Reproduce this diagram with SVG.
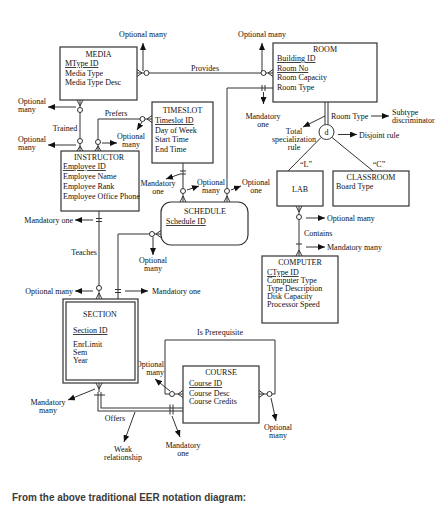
<svg xmlns="http://www.w3.org/2000/svg" width="448" height="513" viewBox="0 0 448 513">
<defs>
<style>
.t{font-family:"Liberation Serif","Times New Roman",serif;font-size:8px;fill:#111}
.c{text-anchor:middle}
.e{text-anchor:end}
.u{text-decoration:underline}
.box{fill:#fff;stroke:#333;stroke-width:1.2}
.ln{fill:none;stroke:#333;stroke-width:1}
.ar{fill:none;stroke:#333;stroke-width:1;marker-end:url(#ah)}
.o{fill:#fff;stroke:#333;stroke-width:1}
.cap{font-family:"Liberation Sans",Arial,sans-serif;font-size:10px;font-weight:bold;fill:#3a3a3a}
</style>
<marker id="ah" markerUnits="userSpaceOnUse" markerWidth="7" markerHeight="6" refX="7" refY="3" orient="auto">
<path d="M0,0 L7,3 L0,6 z" fill="#111"/>
</marker>
</defs>
<rect width="448" height="513" fill="#fff"/>

<g id="connectors">
<!-- Provides -->
<path class="ln" d="M137,73 H273 M142,73 L137,69.5 M142,73 L137,76.5 M268,73 L273,69.5 M268,73 L273,76.5"/>
<circle class="o" cx="146.5" cy="73" r="2.5"/>
<circle class="o" cx="263.5" cy="73" r="2.5"/>
<path class="ar" d="M143,71 V43"/>
<path class="ar" d="M262,71 V43"/>
<text class="t c" x="143" y="37">Optional many</text>
<text class="t c" x="262" y="37">Optional many</text>
<text class="t c" x="205" y="71">Provides</text>

<!-- Room to Schedule -->
<path class="ln" d="M273,88 H227 V202 M227,196 L224,202 M227,196 L230,202 M262,85 V91 M265,85 V91"/>
<circle class="o" cx="227" cy="191" r="2.5"/>
<path class="ar" d="M263.5,92 V104"/>
<text class="t c" x="263" y="119">Mandatory</text>
<text class="t c" x="263" y="127">one</text>
<path class="ar" d="M231,190 L241,186"/>
<text class="t c" x="256" y="185">Optional</text>
<text class="t c" x="256" y="193">one</text>

<!-- Specialization -->
<path class="ln" d="M325,102 V124.5 M328,102 V124.5"/>
<circle class="o" cx="326.5" cy="132" r="7.5"/>
<text class="t c" x="326.5" y="135">d</text>
<path class="ln" d="M321,137.5 L288,171 M332,137.5 L373,171"/>
<text class="t" x="331" y="119">Room Type</text>
<path class="ar" d="M371,116 H389"/>
<text class="t" x="392" y="115">Subtype</text>
<text class="t" x="392" y="123">discriminator</text>
<path class="ar" d="M325,116 L303,127"/>
<text class="t c" x="294" y="134">Total</text>
<text class="t c" x="294" y="142">specialization</text>
<text class="t c" x="294" y="150">rule</text>
<path class="ar" d="M338,134.5 H357"/>
<text class="t" x="359" y="137.5">Disjoint rule</text>
<text class="t c" x="306" y="167">“L”</text>
<text class="t c" x="379" y="167">“C”</text>

<!-- Contains -->
<path class="ln" d="M299,206 V256 M299,212 L296,206 M299,212 L302,206 M296,244 H302 M299,250 L296,256 M299,250 L302,256"/>
<circle class="o" cx="299" cy="217" r="2.5"/>
<path class="ar" d="M306,218 H325"/>
<text class="t" x="327" y="221">Optional many</text>
<text class="t" x="304" y="236">Contains</text>
<path class="ar" d="M306,247 H325"/>
<text class="t" x="327" y="250">Mandatory many</text>

<!-- Prefers -->
<path class="ln" d="M152,119 H98 V151 M147,119 L152,115.5 M147,119 L152,122.5 M98,146 L95,151 M98,146 L101,151"/>
<circle class="o" cx="142.5" cy="119" r="2.5"/>
<circle class="o" cx="98" cy="142" r="2.5"/>
<text class="t c" x="116" y="116">Prefers</text>
<path class="ar" d="M142,122 L137,130"/>
<path class="ar" d="M102,143 H117"/>
<text class="t c" x="131" y="139">Optional</text>
<text class="t c" x="131" y="147">many</text>

<!-- Trained -->
<path class="ln" d="M80,100 V151 M80,106 L77,100 M80,106 L83,100 M80,146 L77,151 M80,146 L83,151"/>
<circle class="o" cx="80" cy="110" r="2.5"/>
<circle class="o" cx="80" cy="141" r="2.5"/>
<path class="ar" d="M76,107 H48"/>
<path class="ar" d="M76,145 H48"/>
<text class="t" x="18" y="104">Optional</text>
<text class="t" x="18" y="112">many</text>
<text class="t" x="18" y="142">Optional</text>
<text class="t" x="18" y="150">many</text>
<text class="t c" x="65" y="131">Trained</text>

<!-- Teaches -->
<path class="ln" d="M99,211 V299 M96,218.5 H102 M96,221.5 H102 M99,293 L96,299 M99,293 L102,299"/>
<circle class="o" cx="99" cy="288" r="2.5"/>
<path class="ar" d="M93,220 H75"/>
<text class="t e" x="73" y="223">Mandatory one</text>
<text class="t c" x="84" y="255">Teaches</text>
<path class="ar" d="M93,291 H75"/>
<text class="t e" x="73" y="294">Optional many</text>

<!-- Timeslot to Schedule -->
<path class="ln" d="M183,163 V202 M180,171 H186 M180,174 H186 M183,196 L180,202 M183,196 L186,202"/>
<circle class="o" cx="183" cy="191" r="2.5"/>
<path class="ar" d="M180,174 L166,179"/>
<text class="t c" x="158" y="186">Mandatory</text>
<text class="t c" x="158" y="194">one</text>
<path class="ar" d="M187,190 L199,186"/>
<text class="t c" x="211" y="185">Optional</text>
<text class="t c" x="211" y="193">many</text>

<!-- Schedule to Section -->
<path class="ln" d="M161,234 H118 V299 M156,234 L161,230.5 M156,234 L161,237.5 M115,289.5 H121 M115,292.5 H121"/>
<circle class="o" cx="152" cy="234" r="2.5"/>
<path class="ar" d="M153,237 V255"/>
<text class="t c" x="153" y="263">Optional</text>
<text class="t c" x="153" y="271">many</text>
<path class="ar" d="M125,291 H148"/>
<text class="t" x="152" y="294">Mandatory one</text>

<!-- Is Prerequisite -->
<path class="ln" d="M183,394 H165 V340 H275 V394 H259 M178,394 L183,390.5 M178,394 L183,397.5 M264,394 L259,390.5 M264,394 L259,397.5"/>
<circle class="o" cx="172" cy="394" r="2.5"/>
<circle class="o" cx="269.5" cy="394" r="2.5"/>
<text class="t c" x="220" y="335">Is Prerequisite</text>
<path class="ar" d="M170,391 L155,379"/>
<text class="t e" x="164" y="367">Optional</text>
<text class="t e" x="164" y="375">many</text>
<path class="ar" d="M271,398 L276,421"/>
<text class="t c" x="278" y="430">Optional</text>
<text class="t c" x="278" y="438">many</text>

<!-- Offers -->
<path class="ln" d="M99,383 V392 M99,389 L96,383 M99,389 L102,383"/>
<path d="M99.5,392 V409.5 H183" fill="none" stroke="#333" stroke-width="4"/>
<path d="M99.5,392 V409.5 H183" fill="none" stroke="#fff" stroke-width="2"/>
<path class="ln" d="M94,395 H105 M170,404.5 V414.5 M173,404.5 V414.5"/>
<path class="ar" d="M95,389 L68,400"/>
<text class="t c" x="48" y="405">Mandatory</text>
<text class="t c" x="48" y="413">many</text>
<text class="t c" x="115" y="421">Offers</text>
<path class="ar" d="M135,412 L124,442"/>
<text class="t c" x="123" y="452">Weak</text>
<text class="t c" x="123" y="460">relationship</text>
<path class="ar" d="M172,416 L180,437"/>
<text class="t c" x="183" y="448">Mandatory</text>
<text class="t c" x="183" y="456">one</text>
</g>

<g id="media">
<rect class="box" x="60" y="47" width="77" height="53"/>
<text class="t c" x="98.5" y="57">MEDIA</text>
<text class="t u" x="65" y="66">MType ID</text>
<text class="t" x="65" y="76">Media Type</text>
<text class="t" x="65" y="85">Media Type Desc</text>
</g>

<g id="room">
<rect class="box" x="273" y="43" width="104" height="59"/>
<text class="t c" x="325" y="52">ROOM</text>
<text class="t u" x="277" y="61">Building ID</text>
<text class="t u" x="277" y="71">Room No</text>
<text class="t" x="277" y="80">Room Capacity</text>
<text class="t" x="277" y="90">Room Type</text>
</g>

<g id="timeslot">
<rect class="box" x="152" y="102" width="61" height="61"/>
<text class="t c" x="182.5" y="113">TIMESLOT</text>
<text class="t u" x="155" y="123">Timeslot ID</text>
<text class="t" x="155" y="133">Day of Week</text>
<text class="t" x="155" y="142">Start Time</text>
<text class="t" x="155" y="152">End Time</text>
</g>

<g id="instructor">
<rect class="box" x="61" y="151" width="78" height="60"/>
<text class="t c" x="99" y="160">INSTRUCTOR</text>
<text class="t u" x="63" y="169">Employee ID</text>
<text class="t" x="63" y="179">Employee Name</text>
<text class="t" x="63" y="189">Employee Rank</text>
<text class="t" x="63" y="199">Employee Office Phone</text>
</g>

<g id="schedule">
<rect class="box" x="161" y="202" width="87" height="43" rx="10"/>
<text class="t c" x="205" y="214">SCHEDULE</text>
<text class="t u" x="166" y="224">Schedule ID</text>
</g>

<g id="lab">
<rect class="box" x="277" y="171" width="46" height="35"/>
<text class="t c" x="300" y="192">LAB</text>
</g>

<g id="classroom">
<rect class="box" x="333" y="171" width="76" height="35"/>
<text class="t c" x="371" y="180">CLASSROOM</text>
<text class="t" x="336" y="189">Board Type</text>
</g>

<g id="computer">
<rect class="box" x="262" y="256" width="76" height="67"/>
<text class="t c" x="300" y="265">COMPUTER</text>
<text class="t u" x="267" y="275">CType ID</text>
<text class="t" x="267" y="283">Computer Type</text>
<text class="t" x="267" y="291">Type Description</text>
<text class="t" x="267" y="299">Disk Capacity</text>
<text class="t" x="267" y="307">Processor Speed</text>
</g>

<g id="section">
<rect class="box" x="63" y="299" width="75" height="84"/>
<rect class="box" x="66" y="302" width="69" height="78"/>
<text class="t c" x="100" y="317">SECTION</text>
<text class="t u" x="73" y="333">Section ID</text>
<text class="t" x="73" y="347">EnrLimit</text>
<text class="t" x="73" y="355">Sem</text>
<text class="t" x="73" y="363">Year</text>
</g>

<g id="course">
<rect class="box" x="183" y="366" width="76" height="57"/>
<text class="t c" x="221" y="375">COURSE</text>
<text class="t u" x="189" y="386">Course ID</text>
<text class="t" x="189" y="396">Course Desc</text>
<text class="t" x="189" y="404">Course Credits</text>
</g>

<text class="cap" x="12" y="501" textLength="234" lengthAdjust="spacingAndGlyphs">From the above traditional EER notation diagram:</text>
</svg>
